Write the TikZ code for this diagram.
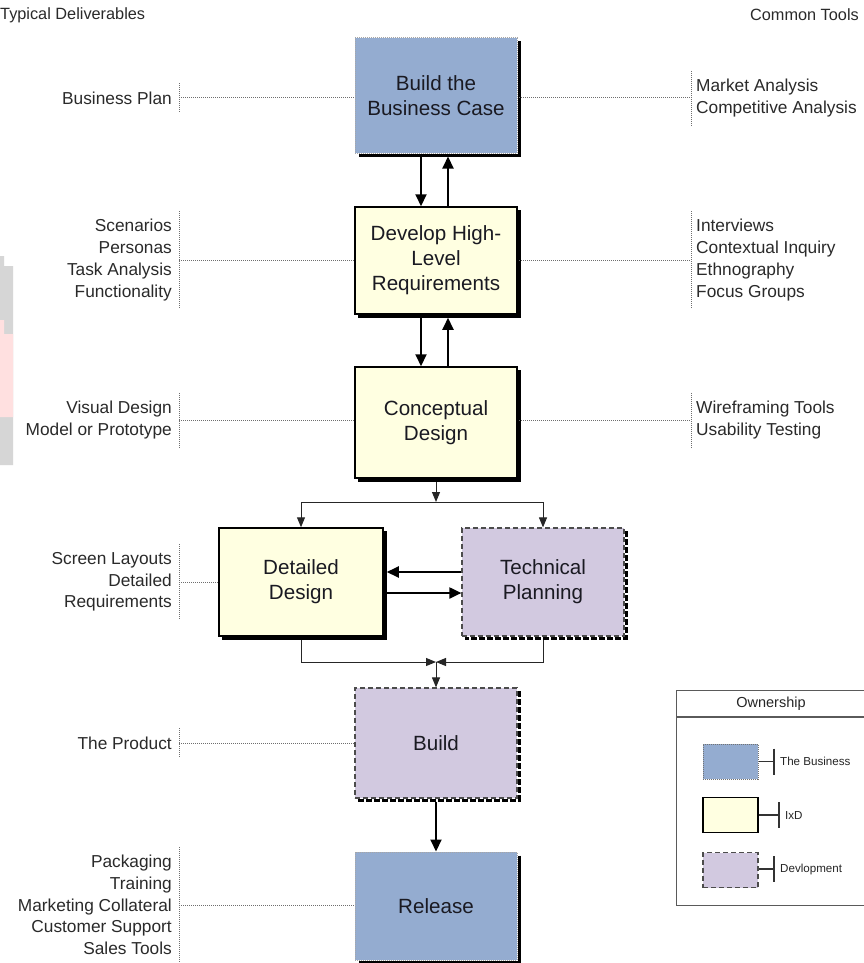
\documentclass[tikz,border=0pt]{standalone}
\usepackage{fontspec}
\setmainfont{Liberation Sans}
\usetikzlibrary{arrows.meta}

\definecolor{bizblue}{RGB}{148,172,208}
\definecolor{ixdyellow}{RGB}{255,255,225}
\definecolor{devpurple}{RGB}{210,201,224}
\definecolor{labelgray}{RGB}{42,42,42}
\definecolor{boxtext}{RGB}{26,26,34}
\definecolor{dotgray}{RGB}{110,110,110}
\definecolor{framegray}{RGB}{90,90,90}

% thick drop edge along the right and bottom of a box
\newcommand{\dropedge}[2][]{%
  \draw[line width=3pt,line cap=butt,miter limit=10,#1]
    ([xshift=1.5pt,yshift=-4pt]#2.north east) --
    ([xshift=1.5pt,yshift=-1.5pt]#2.south east) --
    ([xshift=4pt,yshift=-1.5pt]#2.south west);}

\tikzset{
  stagebox/.style={minimum width=162pt, minimum height=110pt, inner sep=0pt,
    align=center, text=boxtext, font=\fontsize{20.6}{25}\selectfont},
  bizbox/.style={stagebox, fill=bizblue, draw=black!35, line width=1pt,
    dash pattern=on 1pt off 1pt},
  ixdbox/.style={stagebox, fill=ixdyellow, draw=black, line width=1.5pt},
  devbox/.style={stagebox, fill=devpurple, draw=black!70, line width=1.2pt,
    dash pattern=on 5pt off 3pt},
  leftlbl/.style={anchor=east, align=right, text=labelgray,
    font=\fontsize{17.3}{21.7}\selectfont, inner xsep=0pt, inner ysep=8pt},
  rightlbl/.style={anchor=west, align=left, text=labelgray,
    font=\fontsize{17.3}{21.7}\selectfont, inner xsep=0pt, inner ysep=8pt},
  dotline/.style={draw=dotgray, line width=1pt, dash pattern=on 1pt off 1pt},
  bigarrow/.style={draw=black, line width=2pt,
    -{Triangle[length=12pt,width=11pt]}},
  smallarrow/.style={draw=black!85, line width=1pt,
    -{Triangle[length=10pt,width=8pt]}},
  header/.style={text=labelgray, font=\fontsize{16.3}{19}\selectfont, inner sep=0pt},
  legline/.style={draw=black!80, line width=1.2pt},
  legtext/.style={anchor=west, text=black!85, font=\fontsize{11.6}{13}\selectfont, inner sep=0pt},
  swatch/.style={minimum width=55pt, minimum height=35pt, inner sep=0pt},
}

\begin{document}
\begin{tikzpicture}[x=1pt,y=-1pt]
\useasboundingbox[fill=white] (0,0) rectangle (864,963);

% faint mark at the left margin
\fill[black!16] (0,256) -- (4,256) -- (4,266) -- (13,266) -- (13,465) -- (0,465) -- cycle;
\fill[red!12] (0,320) -- (4,320) -- (4,334) -- (13,334) -- (13,417) -- (0,417) -- cycle;

% column headers
\node[header, anchor=west] (hdl) at (0,15) {Typical Deliverables};
\node[header, anchor=east] (hdr) at (859,15) {Common Tools};

% stages
\node[bizbox] (bbc)   at (436,95.5) [minimum height=115pt] {Build the\\Business Case};
\node[ixdbox] (dhr)   at (436,260.5) [minimum height=107pt] {Develop High-\\Level\\Requirements};
\node[ixdbox] (cd)    at (436,422.5) [minimum height=111pt] {Conceptual\\Design};
\node[ixdbox] (dd)    at (301,582) [minimum width=164pt, minimum height=108pt] {Detailed\\Design};
\node[devbox] (tp)    at (543,582) [minimum height=108pt] {Technical\\Planning};
\node[devbox] (build) at (436,743) {Build};
\node[bizbox] (rel)   at (436,906) [minimum height=108pt] {Release};

\dropedge{bbc}
\dropedge{dhr}
\dropedge{cd}
\dropedge{dd}
\dropedge[dash pattern=on 6pt off 2pt]{tp}
\dropedge[dash pattern=on 6pt off 2pt]{build}
\dropedge{rel}

% flow between stages
\draw[bigarrow] ([xshift=-15pt,yshift=-3pt]bbc.south) -- ([xshift=-15pt]dhr.north);
\draw[bigarrow] ([xshift=12pt]dhr.north) -- ([xshift=12pt,yshift=-3pt]bbc.south);
\draw[bigarrow] ([xshift=-15pt,yshift=-3pt]dhr.south) -- ([xshift=-15pt]cd.north);
\draw[bigarrow] ([xshift=12pt]cd.north) -- ([xshift=12pt,yshift=-3pt]dhr.south);

\coordinate (split) at (436,502);
\draw[smallarrow] ([yshift=-3pt]cd.south) -- (split);
\draw[smallarrow] (split) -| (dd.north);
\draw[smallarrow] (split) -| (tp.north);

\draw[bigarrow] ([yshift=10pt]tp.west) -- ([xshift=3pt,yshift=10pt]dd.east);
\draw[bigarrow] ([xshift=3pt,yshift=-11pt]dd.east) -- ([yshift=-11pt]tp.west);

\coordinate (merge) at (436,662);
\draw[smallarrow] ([yshift=-3pt]dd.south) |- (merge);
\draw[smallarrow] ([yshift=-3pt]tp.south) |- (merge);
\draw[smallarrow] (merge) -- (build.north);

\draw[bigarrow] ([yshift=-3pt]build.south) -- (rel.north);

% typical deliverables
\node[leftlbl] (l1) at (172,98) {Business Plan};
\node[leftlbl] (l2) at (172,260) {Scenarios\\Personas\\Task Analysis\\Functionality};
\node[leftlbl] (l3) at (172,420) {Visual Design\\Model or Prototype};
\node[leftlbl] (l4) at (172,582) {Screen Layouts\\Detailed\\Requirements};
\node[leftlbl] (l5) at (172,743) {The Product};
\node[leftlbl] (l6) at (172,905) {Packaging\\Training\\Marketing Collateral\\Customer Support\\Sales Tools};

\foreach \lbl/\stage in {l1/bbc,l2/dhr,l3/cd,l4/dd,l5/build,l6/rel}{
  \draw[dotline] ([xshift=7pt]\lbl.north east) -- ([xshift=7pt]\lbl.south east);
  \draw[dotline] ([xshift=7pt]\lbl.east) -- (\lbl.east -| \stage.west);
}

% common tools
\node[rightlbl] (r1) at (696,98) {Market Analysis\\Competitive Analysis};
\node[rightlbl] (r2) at (696,260) {Interviews\\Contextual Inquiry\\Ethnography\\Focus Groups};
\node[rightlbl] (r3) at (696,420) {Wireframing Tools\\Usability Testing};

\foreach \lbl/\stage in {r1/bbc,r2/dhr,r3/cd}{
  \draw[dotline] ([xshift=-5pt]\lbl.north west) -- ([xshift=-5pt]\lbl.south west);
  \draw[dotline] ([xshift=1.5pt]\lbl.west -| \stage.east) -- ([xshift=-5pt]\lbl.west);
}

% ownership key
\node[draw=framegray, line width=1.2pt, minimum width=190pt, minimum height=215pt,
      inner sep=0pt, anchor=north west] (legend) at (676,690) {};
\draw[draw=framegray, line width=1.2pt] ([yshift=-27pt]legend.north west) -- ([yshift=-27pt]legend.north east);
\node[text=black!85, font=\fontsize{14.5}{17}\selectfont, inner sep=0pt] (legtitle) at (771,703.5) {Ownership};

\node[swatch, fill=bizblue, draw=black!55, line width=1pt, dash pattern=on 1pt off 1pt] (sw1) at (730.5,761.5) {};
\node[swatch, fill=ixdyellow, draw=black, line width=1.5pt] (sw2) at (730.5,815) {};
\node[swatch, fill=devpurple, draw=black!70, line width=1.2pt, dash pattern=on 5pt off 3pt] (sw3) at (730.5,870) {};

\coordinate (k1) at (774,761.5);
\coordinate (k2) at (779,815);
\coordinate (k3) at (774,869);
\foreach \sw/\k in {sw1/k1,sw2/k2,sw3/k3}{
  \draw[legline] (\sw.east |- \k) -- (\k);
  \draw[legline] ([yshift=13pt]\k) -- ([yshift=-13pt]\k);
}
\node[legtext] (t1) at ([xshift=6pt]k1) {The Business};
\node[legtext] (t2) at ([xshift=6pt]k2) {IxD};
\node[legtext] (t3) at ([xshift=6pt]k3) {Devlopment};
\end{tikzpicture}
\end{document}
